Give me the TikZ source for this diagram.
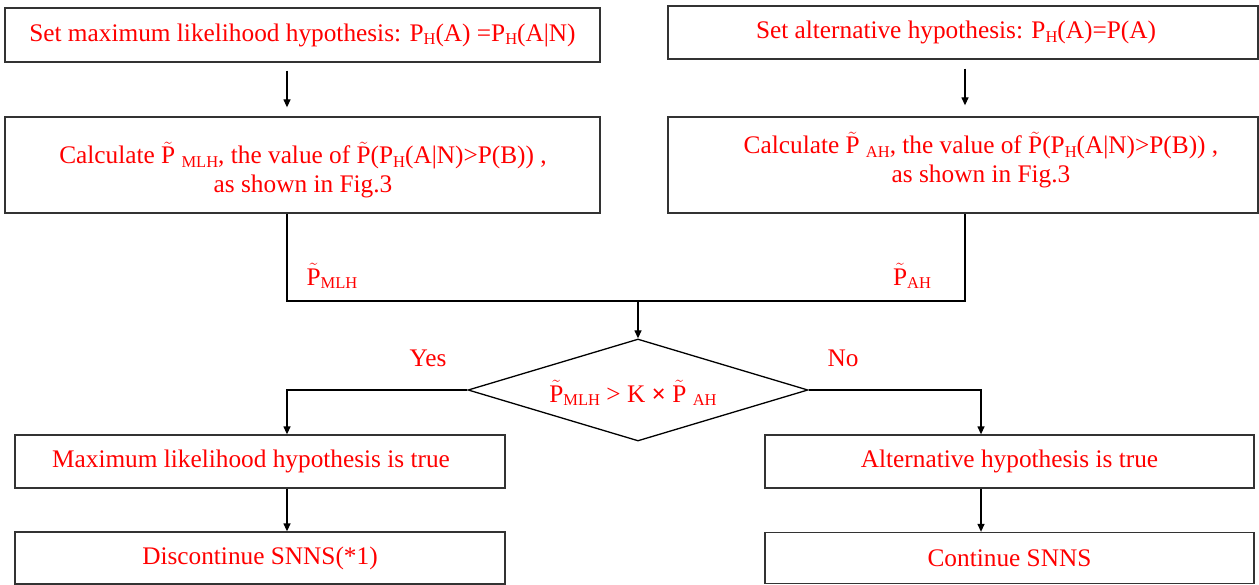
\documentclass[tikz,border=0pt]{standalone}
\usepackage{fontspec}
\setmainfont{Liberation Serif}
\usetikzlibrary{arrows.meta,shapes.geometric}
\newcommand{\sbs}[1]{\raisebox{-0.3ex}{\fontsize{16.5}{16.5}\selectfont #1}}
\newcommand{\Pt}{$\tilde{\mbox{P}}$}
\begin{document}
\begin{tikzpicture}[x=1pt,y=-1pt,
  box/.style={draw=black!80,line width=1.3pt,rectangle,inner sep=0pt,text=red,font=\fontsize{25.3}{29}\selectfont,align=center},
  txt/.style={text=red,font=\fontsize{25.3}{29}\selectfont,align=center,inner sep=0pt},
  conn/.style={line width=1.3pt,black},
  arr/.style={conn,-{Triangle[length=8pt,width=7pt]}}]
\useasboundingbox (0,0) rectangle (1259,585);
\coordinate (xl) at (287,0);
\coordinate (xr) at (965,0);
\coordinate (xr2) at (981,0);
\coordinate (m) at (0,301);
\coordinate (mj) at (638,301);
% boxes
\node[box,minimum width=595,minimum height=54] (b1) at (302.5,35) {Set maximum likelihood hypothesis: P\sbs{H}(A) =P\sbs{H}(A|N)};
\node[box,minimum width=590,minimum height=53] (b2) at (963,32.5) {\hspace*{-14pt}Set alternative hypothesis: P\sbs{H}(A)=P(A)};
\node[box,minimum width=595,minimum height=96] (b3) at (302.5,165) {};
\node[txt] (t3) at (303,170) {Calculate \Pt\ \sbs{MLH}, the value of \Pt(P\sbs{H}(A|N)>P(B)) ,\\ as shown in Fig.3};
\node[box,minimum width=590,minimum height=96] (b4) at (963,165) {};
\node[txt] (t4) at (981,160) {Calculate \Pt\ \sbs{AH}, the value of \Pt(P\sbs{H}(A|N)>P(B)) ,\\ as shown in Fig.3};
\node[draw=black,line width=1.3pt,diamond,aspect=3.33,minimum width=340,minimum height=102,inner sep=0pt] (d) at (638,390) {};
\node[txt] (td) at (633,393) {\Pt\sbs{MLH} > K \textbf{×} \Pt\ \sbs{AH}};
\node[box,minimum width=490,minimum height=53] (b5) at (260,461.5) {\hspace*{-18pt}Maximum likelihood hypothesis is true};
\node[box,minimum width=490,minimum height=52] (b6) at (260,558) {Discontinue SNNS(*1)};
\node[box,minimum width=489,minimum height=53] (b7) at (1009.5,461.5) {Alternative hypothesis is true};
\node[box,minimum width=489,minimum height=51] (b8) at (1009.5,558) {Continue SNNS};
% labels
\node[txt] (lml) at (332,276) {\Pt\sbs{MLH}};
\node[txt] (lah) at (912,276) {\Pt\sbs{AH}};
\node[txt] (ly) at (428,358) {Yes};
\node[txt] (ln) at (843,358) {No};
% connectors
\draw[arr,shorten <=8pt,shorten >=9pt] (b1.south -| xl) -- (b3.north -| xl);
\draw[arr,shorten <=9pt,shorten >=11pt] (b2.south -| xr) -- (b4.north -| xr);
\draw[conn] (b3.south -| xl) -- (xl |- m) -- (xr |- m) -- (b4.south -| xr);
\draw[arr] (mj) -- (d.north);
\draw[arr] (d.west) -| (b5.north -| xl);
\draw[arr] (d.east) -| (b7.north -| xr2);
\draw[arr] (b5.south -| xl) -- (b6.north -| xl);
\draw[arr] (b7.south -| xr2) -- (b8.north -| xr2);
\end{tikzpicture}
\end{document}
